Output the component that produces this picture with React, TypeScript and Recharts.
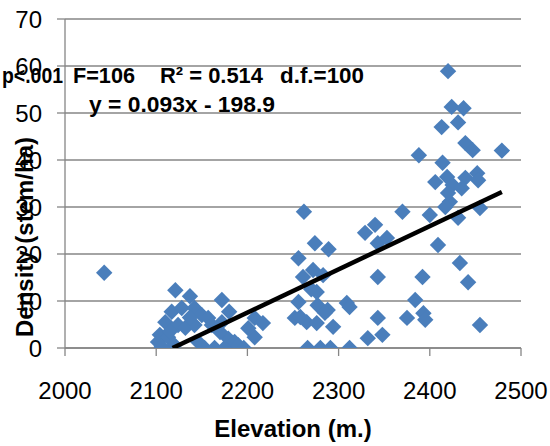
import React from "react";
import {
  ScatterChart,
  Scatter,
  XAxis,
  YAxis,
  CartesianGrid,
} from "recharts";

// elevation (m.) and density (stem/ha) for each plot
const elevation = [
  2043, 2121, 2137, 2172, 2180, 2117, 2128, 2142, 2150, 2157, 2110, 2124,
  2132, 2142, 2104, 2102, 2113, 2120, 2106, 2146, 2153, 2164, 2175, 2183,
  2179, 2186, 2190, 2170, 2161, 2172, 2208, 2217, 2208, 2201, 2137, 2115,
  2262, 2274, 2289, 2256, 2272, 2261, 2283, 2276, 2256, 2309, 2312, 2277,
  2288, 2252, 2265, 2276, 2294, 2258, 2285, 2266, 2280, 2291, 2312, 2270,
  2329, 2340, 2343, 2353, 2343, 2343, 2332, 2348, 2370, 2375, 2384, 2392,
  2393, 2395, 2400, 2409, 2455, 2433, 2442, 2420, 2424, 2437, 2431, 2413,
  2439, 2447, 2479, 2388, 2414, 2406, 2419, 2425, 2439, 2452, 2453, 2435,
  2422, 2417, 2431, 2455, 2420, 2196,
];
const density = [
  16, 12.3, 11, 10.2, 7.7, 7.7, 8.5, 8.5, 7, 6.4, 5.5, 4.9,
  4.3, 4.9, 2.8, 1.3, 2.3, 0.6, 0.2, 1.3, 0, 0, 0, 0,
  2, 1.3, 0.6, 3.4, 4.9, 5.5, 6.4, 5.3, 2.3, 4.2, 6.5, 3.5,
  29, 22.3, 21, 19.1, 16.6, 15.1, 15.5, 11.9, 9.8, 9.6, 8.7, 9.1,
  8.1, 6.4, 5.5, 5.3, 4.5, 6.6, 7.5, 0, 0, 0, 0, 12.5,
  24.5, 26.2, 22.3, 23.4, 15.1, 6.4, 2.1, 2.8, 29, 6.4, 10.2, 15.1,
  7.4, 6, 28.3, 21.9, 4.9, 18.1, 14, 58.9, 51.3, 51, 48, 47,
  43.6, 42.1, 42, 41, 39.4, 35.3, 36.4, 34.7, 36.2, 37.2, 35.7, 34,
  31.1, 30, 27.7, 29.8, 33, 0,
];

// fitted line, start and end as drawn
const trendX = [2118, 2479];
const trendY = [0, 33.2];

const xTicks = [2000, 2100, 2200, 2300, 2400, 2500];
const yTicks = [0, 10, 20, 30, 40, 50, 60, 70];

const points = elevation.map((x, i) => ({ x, y: density[i] }));
const trend = trendX.map((x, i) => ({ x, y: trendY[i] }));

const FONT = "'Liberation Sans', Arial, sans-serif";
const GRID = "#868686";

const Diamond = (props: any) => {
  const { cx, cy } = props;
  if (cx == null || cy == null) return <g />;
  const r = 8.2;
  return (
    <polygon
      points={`${cx},${cy - r} ${cx + r},${cy} ${cx},${cy + r} ${cx - r},${cy}`}
      fill="#4a7ebb"
    />
  );
};

export default function App() {
  return (
    <div style={{ position: "absolute", left: 0, top: 0, background: "#fff" }}>
      <ScatterChart
        width={550}
        height={446}
        margin={{ top: 19, right: 29, bottom: 0, left: 0 }}
        style={{ fontFamily: FONT }}
      >
        <CartesianGrid horizontal vertical={false} stroke={GRID} strokeWidth={1.3} />
        <XAxis
          type="number"
          dataKey="x"
          domain={[2000, 2500]}
          ticks={xTicks}
          height={98}
          stroke={GRID}
          strokeWidth={1.3}
          tickSize={8}
          tickMargin={26}
          tick={{ fill: "#000", fontSize: 24 }}
          allowDataOverflow
        />
        <YAxis
          type="number"
          dataKey="y"
          domain={[0, 70]}
          ticks={yTicks}
          width={65}
          stroke={GRID}
          strokeWidth={1.3}
          tickSize={8}
          tickMargin={15}
          tick={{ fill: "#000", fontSize: 24 }}
          allowDataOverflow
        />
        <Scatter
          data={points}
          shape={<Diamond />}
          isAnimationActive={false}
        />
        <Scatter
          data={trend}
          line={{ stroke: "#000", strokeWidth: 4.5 }}
          shape={() => <g />}
          isAnimationActive={false}
        />
        <text
          x={293}
          y={428}
          textAnchor="middle"
          dominantBaseline="central"
          fontSize={24}
          fontWeight="bold"
          fill="#000"
        >
          Elevation (m.)
        </text>
        <text
          x={0}
          y={0}
          transform="translate(24,237) rotate(-90)"
          textAnchor="middle"
          dy="0.36em"
          fontSize={24}
          fontWeight="bold"
          fill="#000"
        >
          Density (stem/ha)
        </text>
        <g fontSize={22} fontWeight="bold" fill="#000">
          <text x={2} y={83} textLength={61} lengthAdjust="spacingAndGlyphs">
            p&lt;.001
          </text>
          <text x={73} y={83} textLength={62} lengthAdjust="spacingAndGlyphs">
            F=106
          </text>
          <text x={160} y={83} textLength={103} lengthAdjust="spacingAndGlyphs">
            R² = 0.514
          </text>
          <text x={280} y={83} textLength={84} lengthAdjust="spacingAndGlyphs">
            d.f.=100
          </text>
          <text x={89} y={112} textLength={186} lengthAdjust="spacingAndGlyphs">
            y = 0.093x - 198.9
          </text>
        </g>
      </ScatterChart>
    </div>
  );
}
